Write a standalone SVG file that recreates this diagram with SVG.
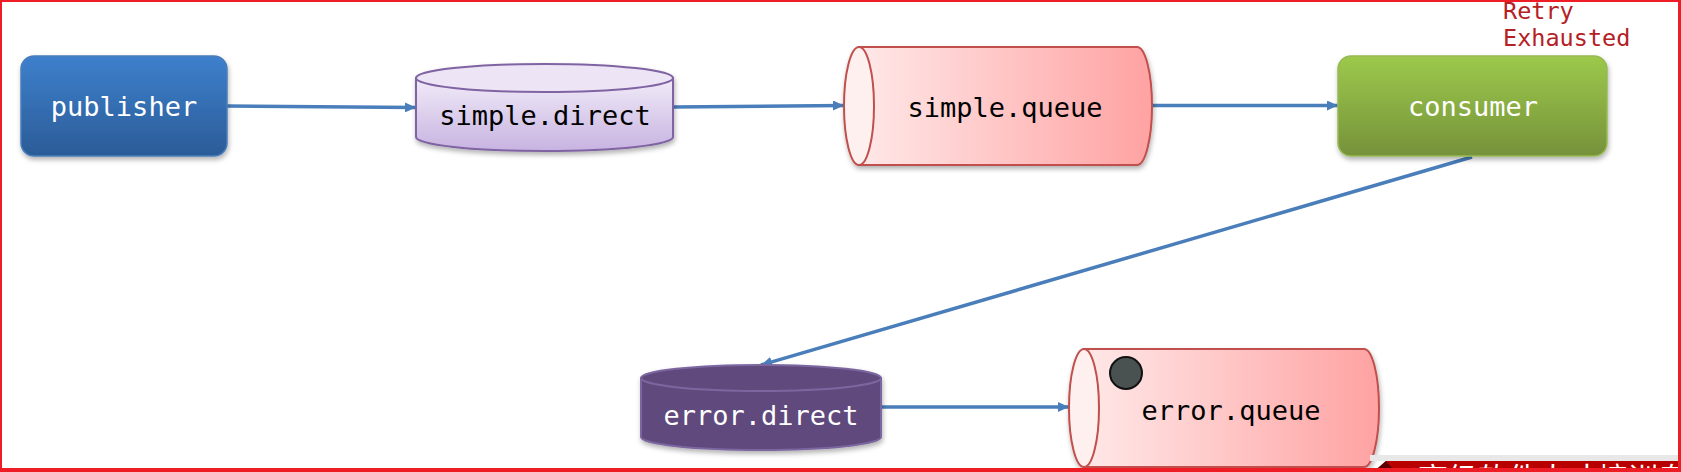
<svg xmlns="http://www.w3.org/2000/svg" width="1681" height="472" viewBox="0 0 1681 472">
  <defs>
    <linearGradient id="gPub" x1="0" y1="0" x2="0" y2="1">
      <stop offset="0" stop-color="#3d80cd"/>
      <stop offset="1" stop-color="#2b5c97"/>
    </linearGradient>
    <linearGradient id="gCons" x1="0" y1="0" x2="0" y2="1">
      <stop offset="0" stop-color="#9cc94b"/>
      <stop offset="1" stop-color="#76923b"/>
    </linearGradient>
    <linearGradient id="gEx" x1="0" y1="0" x2="0" y2="1">
      <stop offset="0" stop-color="#f1ebf8"/>
      <stop offset="1" stop-color="#c7b3e1"/>
    </linearGradient>
    <linearGradient id="gQ" x1="0" y1="0" x2="1" y2="0">
      <stop offset="0" stop-color="#ffe8e8"/>
      <stop offset="1" stop-color="#ffa2a2"/>
    </linearGradient>
    <filter id="sh" x="-10%" y="-10%" width="125%" height="135%">
      <feDropShadow dx="1" dy="3" stdDeviation="2.5" flood-color="#000" flood-opacity="0.3"/>
    </filter>
    <marker id="arr" markerUnits="userSpaceOnUse" markerWidth="12" markerHeight="10" refX="11" refY="5" orient="auto">
      <path d="M0,0 L11,5 L0,10 Z" fill="#4a7ebb"/>
    </marker>
    <clipPath id="bannerClip">
      <rect x="1378" y="461" width="300" height="7"/>
    </clipPath>
    <style>
      .lbl { font-family: "DejaVu Sans Mono", "Liberation Mono", monospace; font-size: 27px; text-anchor: middle; dominant-baseline: central; }
      .w { fill: #ffffff; }
      .k { fill: #000000; }
      .conn { stroke: #4a7ebb; stroke-width: 3.5; fill: none; marker-end: url(#arr); }
      .qbody { fill: url(#gQ); stroke: #c0504d; stroke-width: 2; }
      .qface { fill: #fff0f0; stroke: #c0504d; stroke-width: 2; }
    </style>
  </defs>

  <rect x="0" y="0" width="1681" height="472" fill="#ffffff"/>

  <g id="connectors">
    <line class="conn" x1="227" y1="106" x2="416" y2="107.5"/>
    <line class="conn" x1="673" y1="107" x2="844" y2="105.5"/>
    <line class="conn" x1="1152" y1="105.5" x2="1338" y2="105.5"/>
    <line class="conn" x1="1472" y1="157" x2="761" y2="365"/>
    <line class="conn" x1="881" y1="407" x2="1069" y2="407"/>
  </g>

  <g id="publisher">
    <rect x="21" y="56" width="206" height="100" rx="13" fill="url(#gPub)" stroke="#4a7ebb" stroke-width="1.5" filter="url(#sh)"/>
    <text class="lbl w" x="124" y="106">publisher</text>
  </g>

  <g id="simple-direct">
    <g filter="url(#sh)">
      <path d="M416,78 L416,137 A128.5,14 0 0 0 673,137 L673,78 Z" fill="url(#gEx)" stroke="#8064a2" stroke-width="2"/>
      <ellipse cx="544.5" cy="78" rx="128.5" ry="14" fill="#ede5f6" stroke="#8064a2" stroke-width="2"/>
    </g>
    <text class="lbl k" x="545" y="115">simple.direct</text>
  </g>

  <g id="simple-queue">
    <g filter="url(#sh)">
      <path class="qbody" d="M859,47 L1137,47 A15,59 0 0 1 1137,165 L859,165 Z"/>
      <ellipse class="qface" cx="859" cy="106" rx="15" ry="59"/>
    </g>
    <text class="lbl k" x="1005" y="107">simple.queue</text>
  </g>

  <g id="consumer">
    <rect x="1338" y="56" width="269" height="100" rx="13" fill="url(#gCons)" stroke="#98b954" stroke-width="1.5" filter="url(#sh)"/>
    <text class="lbl w" x="1473" y="106">consumer</text>
  </g>

  <g id="retry-label">
    <text x="1503" y="19" font-family="DejaVu Sans Mono, Liberation Mono, monospace" font-size="23.5" fill="#b52025">Retry</text>
    <text x="1503" y="46" font-family="DejaVu Sans Mono, Liberation Mono, monospace" font-size="23.5" fill="#b52025">Exhausted</text>
  </g>

  <g id="error-direct">
    <g filter="url(#sh)">
      <path d="M641,378 L641,437 A120,13 0 0 0 881,437 L881,378 Z" fill="#604a7b" stroke="#7c66a0" stroke-width="2"/>
      <ellipse cx="761" cy="378" rx="120" ry="13" fill="#604a7b" stroke="#7c66a0" stroke-width="2"/>
    </g>
    <text class="lbl w" x="761" y="415">error.direct</text>
  </g>

  <g id="error-queue">
    <g filter="url(#sh)">
      <path class="qbody" d="M1084,349 L1364,349 A15,59 0 0 1 1364,467 L1084,467 Z"/>
      <ellipse class="qface" cx="1084" cy="408" rx="15" ry="59"/>
    </g>
    <circle cx="1126" cy="373" r="16" fill="#495251" stroke="#111" stroke-width="2"/>
    <text class="lbl k" x="1231" y="410">error.queue</text>
  </g>

  <g id="banner">
    <rect x="1370" y="455" width="308" height="6" fill="#e8e8e8"/>
    <polygon points="1386,461 1678,461 1678,468 1378,468" fill="#b80000"/>
    <polygon points="1386,461 1392,468 1378,468" fill="#5a0000"/>
    <g clip-path="url(#bannerClip)">
      <text x="1418" y="489" font-family="Noto Sans CJK SC, sans-serif" font-size="30" fill="#ffffff">高级软件人才培训专家</text>
    </g>
  </g>

  <g id="frame" fill="#ee1c25">
    <rect x="0" y="0" width="1681" height="2"/>
    <rect x="0" y="0" width="2" height="472"/>
    <rect x="1678" y="0" width="3" height="472"/>
    <rect x="0" y="468" width="1681" height="4"/>
  </g>
</svg>
